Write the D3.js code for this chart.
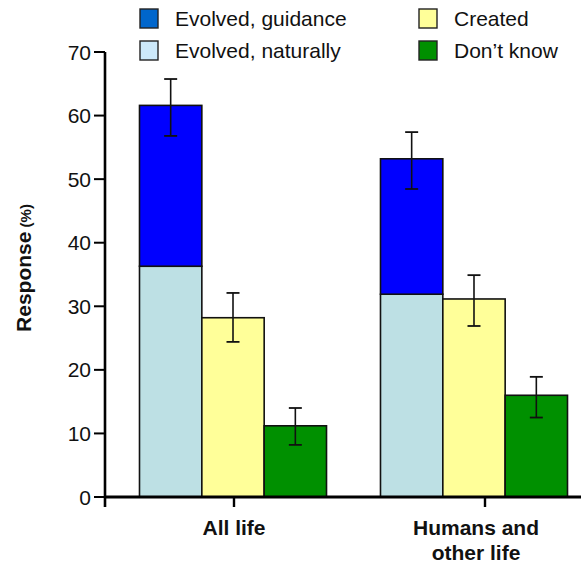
<!DOCTYPE html>
<html>
<head>
<meta charset="utf-8">
<script src="https://cdn.jsdelivr.net/npm/d3@7"></script>
<style>
  html, body { margin: 0; padding: 0; background: #fff; }
  svg { display: block; font-family: "Liberation Sans", Arial, sans-serif; }
</style>
</head>
<body>
<div id="chart"></div>
<script>
// ---- data ----
const categories   = ["All life", "Humans and other life"];
const catLines     = [["All life"], ["Humans and", "other life"]];

const naturally    = [36.3, 31.9];   // evolved, naturally (stack bottom)
const guidance     = [25.3, 21.3];   // evolved, guidance (stack top)
const created      = [28.2, 31.15];
const dontKnow     = [11.2, 16.0];

// error bar ends (low, high)
const evolvedLow   = [56.8, 48.45];
const evolvedHigh  = [65.75, 57.4];
const createdLow   = [24.4, 26.9];
const createdHigh  = [32.1, 34.9];
const dkLow        = [8.2, 12.5];
const dkHigh       = [14.0, 18.9];

const yTicks       = [0, 10, 20, 30, 40, 50, 60, 70];
const columns      = ["evolved", "created", "dontknow"];

const legendItems  = [
  { label: "Evolved, guidance",  color: "#0066cc", col: 0, row: 0 },
  { label: "Evolved, naturally", color: "#cce9fa", col: 0, row: 1 },
  { label: "Created",            color: "#ffff99", col: 1, row: 0 },
  { label: "Don\u2019t know",    color: "#009000", col: 1, row: 1 }
];

const barColors = {
  guidance: "#0000ff",
  naturally: "#bde0e4",
  created: "#ffff99",
  dontknow: "#009000"
};

// ---- layout ----
const W = 581, H = 565;

const svg = d3.select("#chart").append("svg")
  .attr("width", W)
  .attr("height", H);

const y = d3.scaleLinear().domain([0, 70]).range([497, 52]);

const x0 = d3.scaleBand()
  .domain(categories)
  .range([139.5, 567.5])
  .paddingInner(0.224)
  .paddingOuter(0);

const x1 = d3.scaleBand()
  .domain(columns)
  .range([0, x0.bandwidth()]);

// tick positions on the category axis
const xTick = d3.scalePoint().domain(categories).range([234, 485]);

// ---- bars ----
const rows = categories.map((c, i) => ({
  cat: c,
  naturally: naturally[i],
  guidance: guidance[i],
  created: created[i],
  dontknow: dontKnow[i],
  errs: [
    { col: "evolved",  lo: evolvedLow[i], hi: evolvedHigh[i] },
    { col: "created",  lo: createdLow[i], hi: createdHigh[i] },
    { col: "dontknow", lo: dkLow[i],      hi: dkHigh[i] }
  ]
}));

const groups = svg.selectAll(".grp")
  .data(rows)
  .enter()
  .append("g")
  .attr("class", "grp")
  .attr("transform", d => `translate(${x0(d.cat)},0)`);

function bar(g, col, lo, hi, fill) {
  g.append("rect")
    .attr("x", x1(col))
    .attr("y", y(hi))
    .attr("width", x1.bandwidth())
    .attr("height", y(lo) - y(hi))
    .attr("fill", fill)
    .attr("stroke", "#111")
    .attr("stroke-width", 1.6);
}

groups.each(function (d) {
  const g = d3.select(this);
  bar(g, "evolved", 0, d.naturally, barColors.naturally);
  bar(g, "evolved", d.naturally, d.naturally + d.guidance, barColors.guidance);
  bar(g, "created", 0, d.created, barColors.created);
  bar(g, "dontknow", 0, d.dontknow, barColors.dontknow);

  // error bars
  const cap = 6.5;
  d.errs.forEach(e => {
    const cx = x1(e.col) + x1.bandwidth() / 2;
    g.append("line")
      .attr("x1", cx).attr("x2", cx)
      .attr("y1", y(e.lo)).attr("y2", y(e.hi))
      .attr("stroke", "#111").attr("stroke-width", 1.6);
    [e.lo, e.hi].forEach(v => {
      g.append("line")
        .attr("x1", cx - cap).attr("x2", cx + cap)
        .attr("y1", y(v)).attr("y2", y(v))
        .attr("stroke", "#111").attr("stroke-width", 1.8);
    });
  });
});

// ---- axes ----
const axisX = 105;

// y axis line (runs a little below the baseline)
svg.append("line")
  .attr("x1", axisX).attr("x2", axisX)
  .attr("y1", y(70)).attr("y2", y(0) + 10)
  .attr("stroke", "#000").attr("stroke-width", 2.6);

// x axis line
svg.append("line")
  .attr("x1", axisX).attr("x2", W)
  .attr("y1", y(0)).attr("y2", y(0))
  .attr("stroke", "#000").attr("stroke-width", 2.8);

// y ticks
const yt = svg.selectAll(".ytick")
  .data(yTicks)
  .enter()
  .append("g")
  .attr("class", "ytick")
  .attr("transform", d => `translate(${axisX},${y(d)})`);

yt.append("line")
  .attr("x1", -11).attr("x2", 0)
  .attr("stroke", "#000").attr("stroke-width", 2);

yt.append("text")
  .attr("x", -14)
  .attr("dy", "0.36em")
  .attr("text-anchor", "end")
  .style("font-size", "21px")
  .style("fill", "#111")
  .text(d => d);

// x category ticks
svg.selectAll(".xtick")
  .data(categories)
  .enter()
  .append("line")
  .attr("class", "xtick")
  .attr("x1", d => xTick(d)).attr("x2", d => xTick(d))
  .attr("y1", y(0)).attr("y2", y(0) + 10)
  .attr("stroke", "#000").attr("stroke-width", 2.4);

// category labels, centred under each bar group
svg.selectAll(".xlabel")
  .data(categories)
  .enter()
  .append("text")
  .attr("class", "xlabel")
  .attr("text-anchor", "middle")
  .style("font-size", "21px")
  .style("font-weight", "bold")
  .style("fill", "#111")
  .each(function (d, i) {
    const cx = i === 0 ? xTick(d) : x0(d) + x0.bandwidth() / 2 + 2;
    catLines[i].forEach((line, k) => {
      d3.select(this).append("tspan")
        .attr("x", cx)
        .attr("y", y(0) + 38 + k * 25)
        .text(line);
    });
  });

// y axis title
const yl = svg.append("text")
  .attr("transform", "translate(31,268) rotate(-90)")
  .attr("text-anchor", "middle")
  .style("font-weight", "bold")
  .style("fill", "#111");
yl.append("tspan").style("font-size", "21px").text("Response");
yl.append("tspan").style("font-size", "15px").text(" (%)");

// ---- legend ----
const legend = svg.selectAll(".leg")
  .data(legendItems)
  .enter()
  .append("g")
  .attr("class", "leg")
  .attr("transform", d => `translate(${140 + d.col * 279},${9 + d.row * 32})`);

legend.append("rect")
  .attr("width", 18).attr("height", 19)
  .attr("fill", d => d.color)
  .attr("stroke", "#222")
  .attr("stroke-width", 1.4);

legend.append("text")
  .attr("x", 35)
  .attr("y", 17)
  .style("font-size", "21px")
  .style("fill", "#111")
  .text(d => d.label);
</script>
</body>
</html>
